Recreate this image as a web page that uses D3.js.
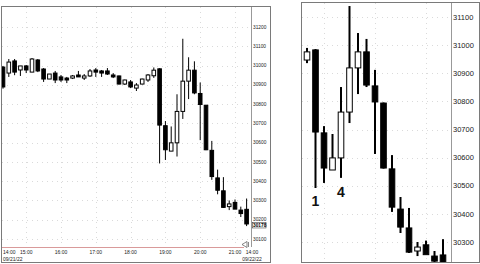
<!DOCTYPE html>
<html>
<head>
<meta charset="utf-8">
<script src="https://cdn.jsdelivr.net/npm/d3@7"></script>
<style>
    body { margin: 0; background: #fff; }
    svg { display: block; font-family: 'Liberation Sans', Arial, sans-serif; }
</style>
</head>
<body>
<div id="chart"></div>
<script>
'use strict';

// 10-minute candles, 09/21/22 14:20 onwards
const opens  = [30992, 30961, 31024, 30977, 30998, 30966, 31029, 30982, 30930, 30961,
                30941, 30935, 30935, 30951, 30935, 30946, 30977, 30972, 30972, 30951,
                30946, 30904, 30915, 30883, 30904, 30925, 30947, 30983, 30688, 30556,
                30599, 30762, 30919, 30976, 30855, 30794, 30560, 30417, 30350, 30268,
                30290, 30250, 30254];
const highs  = [30998, 31034, 31034, 30998, 31003, 31039, 31034, 30987, 30956, 30972,
                30951, 30941, 30951, 30972, 30956, 30982, 30987, 30977, 30987, 30961,
                30948, 30927, 30925, 30909, 30932, 30956, 30990, 30986, 30712, 30684,
                30851, 31139, 31043, 31022, 30912, 30796, 30609, 30460, 30421, 30300,
                30305, 30268, 30310];
const lows   = [30880, 30941, 30950, 30946, 30961, 30966, 30966, 30915, 30930, 30909,
                30915, 30909, 30930, 30941, 30925, 30941, 30941, 30941, 30951, 30935,
                30902, 30899, 30883, 30868, 30902, 30915, 30936, 30492, 30510, 30556,
                30528, 30723, 30826, 30851, 30613, 30561, 30407, 30332, 30261, 30250,
                30258, 30214, 30167];
const closes = [30889, 31018, 30966, 30998, 30977, 31034, 30972, 30930, 30956, 30925,
                30925, 30925, 30946, 30941, 30946, 30972, 30966, 30961, 30956, 30941,
                30904, 30925, 30889, 30899, 30930, 30951, 30976, 30691, 30563, 30599,
                30762, 30919, 30976, 30858, 30798, 30563, 30424, 30353, 30264, 30282,
                30255, 30232, 30178];

// Time axis
const hourIdx = [4, 10, 16, 22, 28, 34, 40];
const hourLabels = ['15:00', '16:00', '17:00', '18:00', '19:00', '20:00', '21:00'];

// Price axes
const leftTicks = [30100, 30200, 30300, 30400, 30500, 30600, 30700, 30800, 30900, 31000, 31100, 31200];
const rightTicks = [30300, 30400, 30500, 30600, 30700, 30800, 30900, 31000, 31100];
const lastPrice = 30178;

// Annotations on the zoomed panel
const marks = [{idx: 27, text: '1'}, {idx: 30, text: '4'}];

const candles = opens.map((o, i) => ({i: i, o: o, h: highs[i], l: lows[i], c: closes[i]}));

class CandleChart {

    constructor(_svg, _cfg) {
        this.svg = _svg;
        this.cfg = _cfg;

        this.initVis();
    }

    initVis() {
        // Get this vis
        const vis = this;
        const c = vis.cfg;

        vis.g = vis.svg.append('g');

        // Scales
        vis.xScale = d3.scaleLinear().domain(c.xDomain).range(c.xRange);
        vis.yScale = d3.scaleLinear().domain(c.yDomain).range(c.yRange);

        // Clip
        vis.g.append('clipPath')
            .attr('id', c.id + 'Clip')
            .append('rect')
            .attr('x', c.plot.x0)
            .attr('y', c.plot.y0)
            .attr('width', c.plot.x1 - c.plot.x0)
            .attr('height', c.plot.y1 - c.plot.y0);

        // Grid
        vis.gridG = vis.g.append('g')
            .attr('clip-path', `url(#${c.id}Clip)`);
        vis.gridG.selectAll('.hGrid')
            .data(c.ticks)
            .join('line')
            .attr('x1', c.plot.x0)
            .attr('x2', c.plot.x1)
            .attr('y1', d => Math.round(vis.yScale(d)) + 0.5)
            .attr('y2', d => Math.round(vis.yScale(d)) + 0.5)
            .attr('stroke', '#dadada')
            .attr('stroke-dasharray', '1,4');
        vis.gridG.selectAll('.vGrid')
            .data(hourIdx)
            .join('line')
            .attr('x1', d => Math.round(vis.xScale(d)) + 0.5)
            .attr('x2', d => Math.round(vis.xScale(d)) + 0.5)
            .attr('y1', c.plot.y0)
            .attr('y2', c.plot.y1)
            .attr('stroke', '#dadada')
            .attr('stroke-dasharray', '1,4');

        // Candles
        vis.candleG = vis.g.append('g')
            .attr('clip-path', `url(#${c.id}Clip)`);

        vis.wrangleData();
    }

    wrangleData() {
        const vis = this;
        vis.data = candles.filter(d => d.i >= vis.cfg.xDomain[0] - 1);

        vis.updateVis();
    }

    updateVis() {
        const vis = this;
        const c = vis.cfg;
        const x = vis.xScale, y = vis.yScale;

        vis.candleG.selectAll('.wick')
            .data(vis.data)
            .join('rect')
            .attr('class', 'wick')
            .attr('x', d => x(d.i) - c.wickW / 2)
            .attr('width', c.wickW)
            .attr('y', d => y(d.h))
            .attr('height', d => y(d.l) - y(d.h))
            .attr('fill', '#000');

        vis.candleG.selectAll('.body')
            .data(vis.data)
            .join('rect')
            .attr('class', 'body')
            .attr('x', d => x(d.i) - c.bodyW / 2)
            .attr('width', c.bodyW)
            .attr('y', d => y(Math.max(d.o, d.c)))
            .attr('height', d => Math.max(1, Math.abs(y(d.o) - y(d.c))))
            .attr('fill', d => d.c >= d.o ? '#fff' : '#000')
            .attr('stroke', '#000')
            .attr('stroke-width', 1);

        // Price labels
        vis.g.selectAll('.yLabel')
            .data(c.ticks)
            .join('text')
            .attr('x', c.labelX)
            .attr('y', d => y(d))
            .attr('dy', '0.35em')
            .attr('font-size', c.labelSize)
            .attr('font-weight', c.labelWeight)
            .attr('fill', '#222')
            .text(d => d);

        // Axis line
        vis.g.append('line')
            .attr('x1', c.axisX + 0.5)
            .attr('x2', c.axisX + 0.5)
            .attr('y1', c.plot.y0)
            .attr('y2', c.axisY1)
            .attr('stroke', '#999');

        // Frame
        vis.g.append('rect')
            .attr('x', c.frame[0] + 0.5)
            .attr('y', c.frame[1] + 0.5)
            .attr('width', c.frame[2] - c.frame[0])
            .attr('height', c.frame[3] - c.frame[1])
            .attr('fill', 'none')
            .attr('stroke', '#7a7a7a');
    }
}

const svg = d3.select('#chart')
    .append('svg')
    .attr('width', 480)
    .attr('height', 264);

// Full session panel
const left = new CandleChart(svg, {
    id: 'left',
    xDomain: [0, 42], xRange: [3, 246.6],
    yDomain: [30100, 31200], yRange: [239, 27],
    plot: {x0: 2, x1: 251, y0: 7, y1: 247},
    ticks: leftTicks,
    bodyW: 3.6, wickW: 1,
    labelX: 253, labelSize: 4.8, labelWeight: 'normal',
    axisX: 251, axisY1: 247,
    frame: [1, 6, 270, 262]
});

// Time labels
left.g.append('line')
    .attr('x1', 2).attr('x2', 244)
    .attr('y1', 247.5).attr('y2', 247.5)
    .attr('stroke', '#d99a9a');

left.g.selectAll('.xLabel')
    .data(hourIdx)
    .join('text')
    .attr('x', d => left.xScale(d))
    .attr('y', 254)
    .attr('text-anchor', 'middle')
    .attr('font-size', 5)
    .attr('fill', '#222')
    .text((d, i) => hourLabels[i]);

const edgeLabels = [
    {x: 3, y: 254, a: 'start', t: '14:00'},
    {x: 3, y: 260.5, a: 'start', t: '09/21/22'},
    {x: 252, y: 254, a: 'middle', t: '14:00'},
    {x: 252, y: 260.5, a: 'middle', t: '09/22/22'}
];
left.g.selectAll('.edgeLabel')
    .data(edgeLabels)
    .join('text')
    .attr('x', d => d.x)
    .attr('y', d => d.y)
    .attr('text-anchor', d => d.a)
    .attr('font-size', 5)
    .attr('fill', '#222')
    .text(d => d.t);

// Last price tag
const lastY = left.yScale(lastPrice) + 1;
left.g.append('rect')
    .attr('x', 252.5).attr('y', lastY - 2.5)
    .attr('width', 13.5).attr('height', 5.5)
    .attr('fill', '#fff')
    .attr('stroke', '#444')
    .attr('stroke-width', 0.6);
left.g.append('text')
    .attr('x', 253)
    .attr('y', lastY)
    .attr('dy', '0.35em')
    .attr('font-size', 4.8)
    .attr('font-weight', 'bold')
    .attr('fill', '#000')
    .text(lastPrice);

// Scroll arrow
left.g.append('path')
    .attr('d', 'M242,244.5 L247,241.5 L247,247.5 Z M248.5,242 L248.5,247')
    .attr('fill', 'none')
    .attr('stroke', '#555')
    .attr('stroke-width', 0.7);

// Zoomed panel
const right = new CandleChart(svg, {
    id: 'right',
    xDomain: [26, 42], xRange: [307, 443],
    yDomain: [30300, 31100], yRange: [242, 17],
    plot: {x0: 302, x1: 451, y0: 3, y1: 262},
    ticks: rightTicks,
    bodyW: 5.6, wickW: 2,
    labelX: 453, labelSize: 7.5, labelWeight: 'normal',
    axisX: 451, axisY1: 262,
    frame: [301, 2, 479, 262]
});

right.g.selectAll('.mark')
    .data(marks)
    .join('text')
    .attr('x', d => right.xScale(d.idx))
    .attr('y', (d, i) => i === 0 ? 206 : 197)
    .attr('text-anchor', 'middle')
    .attr('font-size', 14)
    .attr('font-weight', 'bold')
    .attr('fill', '#111')
    .text(d => d.text);
</script>
</body>
</html>
